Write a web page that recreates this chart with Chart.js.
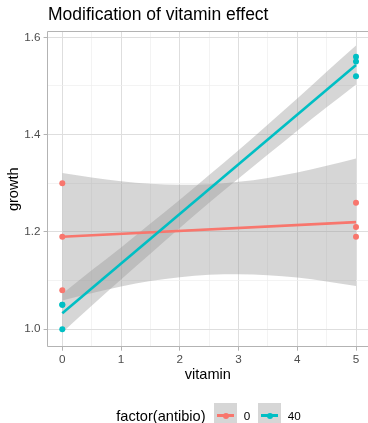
<!DOCTYPE html>
<html>
<head>
<meta charset="utf-8">
<script src="https://cdn.jsdelivr.net/npm/chart.js@4/dist/chart.umd.min.js"></script>
<style>
  html, body { margin: 0; padding: 0; background: #fff; overflow: hidden; }
  body { width: 368px; height: 423px; position: relative; font-family: "Liberation Sans", Arial, sans-serif; }
  #chart { position: absolute; left: 0; top: 0; }
  .title { position: absolute; left: 48px; top: 3.7px; font-size: 17.5px; line-height: 20px; color: #000; white-space: nowrap; }
  .legend { position: absolute; left: 116.3px; top: 403.3px; height: 23.4px; display: flex; align-items: center; white-space: nowrap; }
  .legend .ltitle { font-size: 14.6px; line-height: 17px; color: #000; margin-right: 8.3px; position: relative; top: 1.5px; }
  .legend .key { position: relative; width: 23.4px; height: 23.4px; background: #d6d6d6; margin-right: 6.6px; }
  .legend .key .ln { position: absolute; left: 2.9px; right: 2.9px; top: 11.1px; height: 2.6px; }
  .legend .key .dot { position: absolute; left: 8.7px; top: 9.4px; width: 6px; height: 6px; border-radius: 50%; }
  .legend .lab { font-size: 11.7px; line-height: 14px; color: #000; margin-right: 7.5px; position: relative; top: 1.5px; }
</style>
</head>
<body>
<canvas id="chart" width="368" height="423" style="width:368px;height:423px"></canvas>
<div class="title">Modification of vitamin effect</div>
<div class="legend" id="legend"></div>
<script>
// ---------- données ----------
const vitamin = [0, 0, 0, 5, 5, 5];
const growthAnti0 = [1.30, 1.19, 1.08, 1.26, 1.21, 1.19];
const growthAnti40 = [1.05, 1.05, 1.00, 1.56, 1.55, 1.52];

// droites de régression (lm)
const fitX = [0, 5];
const fitAnti0 = [1.19, 1.22];
const fitAnti40 = [1.033, 1.543];

// bandes de confiance
const bandX = [0, 0.5, 1, 1.5, 2, 2.5, 3, 3.5, 4, 4.5, 5];
const lowAnti0  = [1.059, 1.074, 1.088, 1.099, 1.107, 1.112, 1.113, 1.111, 1.106, 1.098, 1.089];
const highAnti0 = [1.321, 1.312, 1.304, 1.299, 1.297, 1.298, 1.303, 1.311, 1.322, 1.336, 1.351];
const lowAnti40  = [0.993, 1.048, 1.102, 1.155, 1.208, 1.260, 1.310, 1.359, 1.408, 1.456, 1.503];
const highAnti40 = [1.073, 1.121, 1.168, 1.217, 1.266, 1.317, 1.368, 1.421, 1.474, 1.529, 1.583];

const xTicks = [0, 1, 2, 3, 4, 5];
const xMinor = [0.5, 1.5, 2.5, 3.5, 4.5];
const yTicks = [1.0, 1.2, 1.4, 1.6];
const yMinor = [1.1, 1.3, 1.5];

const groups = ["0", "40"];
const colors = ["#F8766D", "#00BFC4"];
const bandFill = "rgba(153,153,153,0.4)";
const FONT = "'Liberation Sans', Arial, sans-serif";

// ---------- helpers ----------
const pts = (xs, ys) => xs.map((x, i) => ({ x, y: ys[i] }));
const near = (list, v) => list.some((t) => Math.abs(t - v) < 1e-6);

function band(xs, ys, order, fill) {
  return {
    data: pts(xs, ys), showLine: true, pointRadius: 0, borderWidth: 0,
    borderColor: "rgba(0,0,0,0)", backgroundColor: bandFill,
    fill: fill, order: order, cubicInterpolationMode: "monotone",
  };
}

// cadre du panneau (le bord droit sort de l'image)
const panelBorder = {
  id: "panelBorder",
  afterDatasetsDraw(chart) {
    const { ctx, chartArea: a } = chart;
    const l = Math.floor(a.left) + 0.5, t = Math.floor(a.top) + 0.5, b = Math.floor(a.bottom) + 0.5;
    ctx.save();
    ctx.strokeStyle = "#B3B3B3";
    ctx.lineWidth = 1;
    ctx.beginPath();
    ctx.moveTo(a.right + 5, t);
    ctx.lineTo(l, t);
    ctx.lineTo(l, b);
    ctx.lineTo(a.right + 5, b);
    ctx.stroke();
    ctx.restore();
  },
};

function gridOpts(major) {
  return {
    color: (c) => near(major, c.tick.value) ? "#DEDEDE" : "#EEEEEE",
    lineWidth: (c) => near(major, c.tick.value) ? 1 : 0.7,
    tickColor: (c) => near(major, c.tick.value) ? "#B3B3B3" : "rgba(0,0,0,0)",
    tickLength: 4,
    tickWidth: 1,
  };
}

// ---------- graphique ----------
new Chart(document.getElementById("chart"), {
  type: "scatter",
  data: {
    datasets: [
      band(bandX, lowAnti0, 10, false),
      band(bandX, highAnti0, 10, "-1"),
      band(bandX, lowAnti40, 9, false),
      band(bandX, highAnti40, 9, "-1"),
      { data: pts(fitX, fitAnti0), showLine: true, pointRadius: 0, borderColor: colors[0], borderWidth: 2.6, order: 8 },
      { data: pts(fitX, fitAnti40), showLine: true, pointRadius: 0, borderColor: colors[1], borderWidth: 2.6, order: 7 },
      { data: pts(vitamin, growthAnti0), pointRadius: 3, borderWidth: 0, backgroundColor: colors[0], order: 6 },
      { data: pts(vitamin, growthAnti40), pointRadius: 3, borderWidth: 0, backgroundColor: colors[1], order: 5 },
    ],
  },
  options: {
    responsive: false,
    animation: false,
    devicePixelRatio: 1,
    layout: { autoPadding: false, padding: { top: 31.7, left: 0, right: 0, bottom: 36.3 } },
    plugins: { legend: { display: false }, tooltip: { enabled: false } },
    scales: {
      x: {
        type: "linear", min: -0.25, max: 5.204,
        afterBuildTicks: (s) => { s.ticks = xTicks.concat(xMinor).sort((a, b) => a - b).map((v) => ({ value: v })); },
        afterFit: (s) => { s.height = 40; },
        ticks: {
          autoSkip: false, maxRotation: 0, padding: 2, color: "#4D4D4D",
          font: { family: FONT, size: 11.7 },
          callback: (v) => near(xTicks, v) ? String(v) : "",
        },
        grid: gridOpts(xTicks),
        border: { display: false },
        title: { display: true, text: "vitamin", color: "#000", font: { family: FONT, size: 14.6 }, padding: { top: 0, bottom: 3 } },
      },
      y: {
        type: "linear", min: 0.964, max: 1.6115,
        afterBuildTicks: (s) => { s.ticks = yTicks.concat(yMinor).sort((a, b) => a - b).map((v) => ({ value: v })); },
        afterFit: (s) => { s.width = 47.6; },
        ticks: {
          autoSkip: false, padding: 3, color: "#4D4D4D",
          font: { family: FONT, size: 11.7 },
          callback: (v) => near(yTicks, v) ? v.toFixed(1) : "",
        },
        grid: gridOpts(yTicks),
        border: { display: false },
        title: { display: true, text: "growth", color: "#000", font: { family: FONT, size: 14.6 }, padding: { top: 5.2, bottom: 0 } },
      },
    },
  },
  plugins: [panelBorder],
});

// ---------- légende ----------
const legend = document.getElementById("legend");
const lt = document.createElement("span");
lt.className = "ltitle";
lt.textContent = "factor(antibio)";
legend.appendChild(lt);
groups.forEach((g, i) => {
  const key = document.createElement("span");
  key.className = "key";
  key.innerHTML = `<span class="ln" style="background:${colors[i]}"></span><span class="dot" style="background:${colors[i]}"></span>`;
  const lab = document.createElement("span");
  lab.className = "lab";
  lab.textContent = g;
  legend.appendChild(key);
  legend.appendChild(lab);
});
</script>
</body>
</html>
